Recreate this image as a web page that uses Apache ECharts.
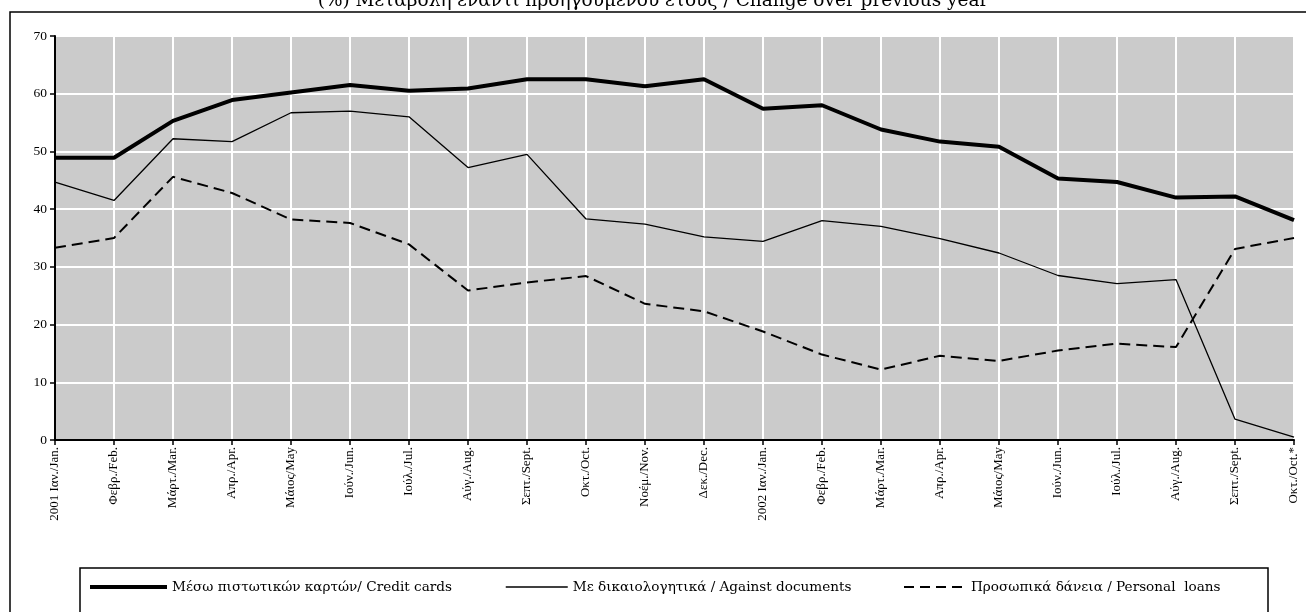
<!DOCTYPE html>
<html>
<head>
<meta charset="utf-8">
<script src="https://cdn.jsdelivr.net/npm/echarts@6/dist/echarts.min.js"></script>
<style>
html,body{margin:0;padding:0;background:#fff;}
#c{width:1306px;height:612px;}
</style>
</head>
<body>
<div id="c"></div>
<script>
var titleText = '(%) Μεταβολή έναντι προηγούμενου έτους / Change over previous year';
var categories = ['2001 Ιαν./Jan.','Φεβρ./Feb.','Μάρτ./Mar.','Απρ./Apr.','Μάιος/May','Ιούν./Jun.','Ιούλ./Jul.','Αύγ./Aug.','Σεπτ./Sept.','Οκτ./Oct.','Νοέμ./Nov.','Δεκ./Dec.',
  '2002 Ιαν./Jan.','Φεβρ./Feb.','Μάρτ./Mar.','Απρ./Apr.','Μάιος/May','Ιούν./Jun.','Ιούλ./Jul.','Αύγ./Aug.','Σεπτ./Sept.','Οκτ./Oct.*'];
var nameCredit = 'Μέσω πιστωτικών καρτών/ Credit cards';
var nameDocs = 'Με δικαιολογητικά / Against documents';
var nameLoans = 'Προσωπικά δάνεια / Personal  loans';
var creditCards = [48.9,48.9,55.3,58.9,60.2,61.5,60.5,60.9,62.5,62.5,61.3,62.5,57.4,58.0,53.8,51.7,50.8,45.3,44.7,42.0,42.2,38.1];
var againstDocs = [44.7,41.5,52.2,51.7,56.7,57.0,56.0,47.2,49.5,38.3,37.4,35.2,34.4,38.0,37.0,34.9,32.4,28.5,27.1,27.8,3.6,0.5];
var personalLoans = [33.3,35.0,45.6,42.8,38.2,37.6,33.9,25.9,27.3,28.4,23.6,22.3,18.8,14.8,12.2,14.6,13.7,15.5,16.7,16.1,33.1,35.0];
var yTicks = {min:0, max:70, interval:10};

var font = 'Liberation Serif, Times New Roman, serif';
var wideFont = 'DejaVu Serif, serif';
var chart = echarts.init(document.getElementById('c'));
function legendAt(left, name, w, lw, ltype){
  return {
    show:true, data:[name], left:left, top:580, orient:'horizontal', padding:0,
    itemWidth:w, itemHeight:10, itemGap:4, selectedMode:false,
    itemStyle:{opacity:0},
    lineStyle:{width:lw, type:ltype, color:'#000'},
    textStyle:{fontFamily:wideFont, fontSize:13.6, color:'#000', padding:[0,0,0,0]}
  };
}
chart.setOption({
  animation:false,
  backgroundColor:'#fff',
  title:{text:titleText, left:'center', top:-13, textStyle:{fontFamily:wideFont, fontSize:18.5, fontWeight:'normal', color:'#000'}},
  graphic:[
    {type:'rect', shape:{x:10, y:12, width:1320, height:620}, style:{fill:'none', stroke:'#000', lineWidth:1.5}, silent:true},
    {type:'rect', shape:{x:80, y:568, width:1188, height:60}, style:{fill:'none', stroke:'#000', lineWidth:1.5}, silent:true}
  ],
  legend:[legendAt(88, nameCredit, 77, 4, 'solid'), legendAt(505, nameDocs, 62, 1.5, 'solid'), legendAt(903, nameLoans, 62, 2, [10,6])],
  grid:{left:55, right:12, top:36, bottom:172, show:true, backgroundColor:'#cbcbcb', borderWidth:0},
  xAxis:{
    type:'category', data:categories, boundaryGap:false,
    axisLine:{lineStyle:{color:'#000', width:2}},
    axisTick:{show:true, length:5, lineStyle:{color:'#000', width:1.5}},
    axisLabel:{rotate:90, interval:0, fontFamily:font, fontSize:13, color:'#000', margin:7},
    splitLine:{show:true, lineStyle:{color:'#fff', width:2}}
  },
  yAxis:{
    type:'value', min:yTicks.min, max:yTicks.max, interval:yTicks.interval,
    axisLine:{show:true, lineStyle:{color:'#000', width:2}},
    axisTick:{show:true, length:5, lineStyle:{color:'#000', width:1.5}},
    axisLabel:{fontFamily:font, fontSize:13.5, color:'#000', margin:8},
    splitLine:{show:true, lineStyle:{color:'#fff', width:2}}
  },
  series:[
    {name:nameCredit, type:'line', data:creditCards, symbol:'none', lineStyle:{color:'#000', width:4}, itemStyle:{color:'#000'}},
    {name:nameDocs, type:'line', data:againstDocs, symbol:'none', lineStyle:{color:'#000', width:1.3}, itemStyle:{color:'#000'}},
    {name:nameLoans, type:'line', data:personalLoans, symbol:'none', lineStyle:{color:'#000', width:2, type:[11,6]}, itemStyle:{color:'#000'}}
  ]
});
</script>
</body>
</html>
